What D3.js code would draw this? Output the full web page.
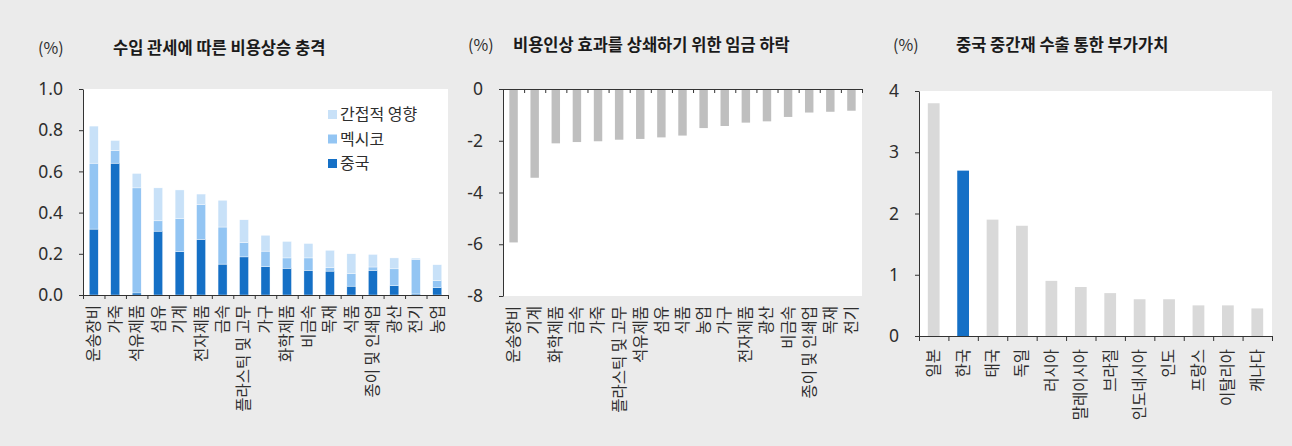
<!DOCTYPE html>
<html>
<head>
<meta charset="utf-8">
<script src="https://cdn.jsdelivr.net/npm/d3@7/dist/d3.min.js"></script>
<style>
  html, body { margin: 0; padding: 0; background: #ebebeb; }
  svg { display: block; }
  text { font-family: "Noto Sans", "Noto Sans CJK KR", sans-serif; }
  .kr { font-family: "Noto Sans CJK KR", "Noto Sans", sans-serif; }
</style>
</head>
<body>
<svg id="chart" width="1292" height="446"></svg>
<script>
// ---- Panel 1: cost increase from import tariffs (stacked) ----
const industries1 = ["운송장비", "가죽", "석유제품", "섬유", "기계", "전자제품", "금속", "플라스틱 및 고무",
  "가구", "화학제품", "비금속", "목재", "식품", "종이 및 인쇄업", "광산", "전기", "농업"];
const chinaShare  = [0.32, 0.64, 0.01, 0.31, 0.21, 0.27, 0.15, 0.185, 0.137, 0.13, 0.12, 0.116, 0.043, 0.12, 0.045, 0.005, 0.035];
const mexicoShare = [0.32, 0.06, 0.51, 0.05, 0.16, 0.17, 0.18, 0.07, 0.076, 0.05, 0.06, 0.016, 0.06, 0.016, 0.082, 0.166, 0.036];
const indirectShare = [0.18, 0.05, 0.07, 0.16, 0.14, 0.05, 0.13, 0.11, 0.077, 0.08, 0.07, 0.085, 0.097, 0.061, 0.053, 0.008, 0.076];
const seriesNames1 = ["중국", "멕시코", "간접적 영향"];
const yTicks1 = [0, 0.2, 0.4, 0.6, 0.8, 1.0];

// ---- Panel 2: wage decline needed to offset the cost increase ----
const industries2 = ["운송장비", "기계", "화학제품", "금속", "가죽", "플라스틱 및 고무", "석유제품", "섬유",
  "식품", "농업", "가구", "전자제품", "광산", "비금속", "종이 및 인쇄업", "목재", "전기"];
const wageDecline = [-5.93, -3.43, -2.10, -2.05, -2.02, -1.96, -1.93, -1.87, -1.80, -1.51, -1.43, -1.30, -1.25, -1.08, -0.91, -0.88, -0.84];
const yTicks2 = [0, -2, -4, -6, -8];

// ---- Panel 3: value added via intermediate exports to China ----
const countries = ["일본", "한국", "태국", "독일", "러시아", "말레이시아", "브라질", "인도네시아", "인도", "프랑스", "이탈리아", "캐나다"];
const valueAdded = [3.8, 2.7, 1.9, 1.8, 0.9, 0.8, 0.7, 0.6, 0.6, 0.5, 0.5, 0.45];
const yTicks3 = [0, 1, 2, 3, 4];

const colors1 = { "중국": "#1570c6", "멕시코": "#93c5f3", "간접적 영향": "#c8e1f8" };
const gray2 = "#bfbfbf";
const gray3 = "#d9d9d9";
const highlight3 = "#1570c6";

const svg = d3.select("#chart");
const AX = "#333";
const TXT = "#2e2e2e";
// integer labels with a plain hyphen for negatives
const intFmt = d => String(Math.round(d));

function styleAxis(g) {
  g.selectAll(".domain").attr("stroke", AX).attr("stroke-width", 1);
  g.selectAll(".tick line").attr("stroke", AX);
  g.selectAll(".tick text").attr("fill", TXT).style("font-size", "17.5px");
}

function headings(unitX, titleX, y, title) {
  svg.append("text").attr("class", "kr").attr("x", unitX).attr("y", y)
    .attr("fill", TXT).style("font-size", "16px").text("(%)");
  svg.append("text").attr("class", "kr").attr("x", titleX).attr("y", y)
    .attr("fill", "#1a1a1a").style("font-size", "16.5px").style("font-weight", "bold").text(title);
}

function categoryLabels(names, xBand, y0) {
  svg.append("g").selectAll("text").data(names).join("text")
    .attr("class", "kr")
    .attr("transform", d => `translate(${xBand(d) + xBand.bandwidth() / 2},${y0}) rotate(-90)`)
    .attr("text-anchor", "end")
    .attr("dy", "0.35em")
    .attr("fill", TXT)
    .style("font-size", "15.5px")
    .text(d => d);
}

// ================= Panel 1 =================
{
  const L = 83, R = 448, T = 89, B = 295;
  svg.append("rect").attr("x", L).attr("y", T).attr("width", R - L).attr("height", B - T).attr("fill", "#fff");
  const x = d3.scaleBand().domain(industries1).range([L, R]).paddingInner(0.58).paddingOuter(0.29);
  const y = d3.scaleLinear().domain([0, 1]).range([B, T]);

  const rows = industries1.map((c, i) => ({ cat: c, "중국": chinaShare[i], "멕시코": mexicoShare[i], "간접적 영향": indirectShare[i] }));
  const stacked = d3.stack().keys(seriesNames1)(rows);
  svg.append("g").selectAll("g").data(stacked).join("g")
    .attr("fill", s => colors1[s.key])
    .selectAll("rect").data(s => s).join("rect")
    .attr("x", d => x(d.data.cat))
    .attr("width", x.bandwidth())
    .attr("y", d => y(d[1]))
    .attr("height", d => Math.max(0, y(d[0]) - y(d[1])))
    .attr("stroke", "#fff").attr("stroke-width", 0.4);

  const gy = svg.append("g").attr("transform", `translate(${L},0)`)
    .call(d3.axisLeft(y).tickValues(yTicks1).tickFormat(d3.format(".1f")).tickSizeInner(4).tickSizeOuter(0).tickPadding(16));
  styleAxis(gy);
  const idx = d3.scaleLinear().domain([0, industries1.length]).range([L, R]);
  const gx = svg.append("g").attr("transform", `translate(0,${B})`)
    .call(d3.axisBottom(idx).tickValues(d3.range(industries1.length + 1)).tickFormat("").tickSizeInner(4).tickSizeOuter(0));
  styleAxis(gx);

  categoryLabels(industries1, x, B + 10);
  headings(38, 113, 54, "수입 관세에 따른 비용상승 충격");

  // legend (top entry is the top stack segment)
  const legendOrder = ["간접적 영향", "멕시코", "중국"];
  const lg = svg.append("g").attr("transform", "translate(328,110)");
  legendOrder.forEach((k, i) => {
    const row = lg.append("g").attr("transform", `translate(0,${i * 24.5})`);
    row.append("rect").attr("width", 9).attr("height", 9).attr("fill", colors1[k]);
    row.append("text").attr("class", "kr").attr("x", 12).attr("y", 4.5).attr("dy", "0.35em")
      .attr("fill", TXT).style("font-size", "16px").text(k);
  });
}

// ================= Panel 2 =================
{
  const L = 503, R = 862, T = 89, B = 296;
  svg.append("rect").attr("x", L).attr("y", T).attr("width", R - L).attr("height", B - T).attr("fill", "#fff");
  const x = d3.scaleBand().domain(industries2).range([L, R]).paddingInner(0.6).paddingOuter(0.3);
  const y = d3.scaleLinear().domain([-8, 0]).range([B, T]);

  svg.append("g").selectAll("rect").data(wageDecline).join("rect")
    .attr("x", (d, i) => x(industries2[i]))
    .attr("width", x.bandwidth())
    .attr("y", y(0))
    .attr("height", d => y(d) - y(0))
    .attr("fill", gray2);

  const gy = svg.append("g").attr("transform", `translate(${L},0)`)
    .call(d3.axisLeft(y).tickValues(yTicks2).tickFormat(intFmt).tickSizeInner(4).tickSizeOuter(0).tickPadding(16));
  styleAxis(gy);
  const idx = d3.scaleLinear().domain([0, industries2.length]).range([L, R]);
  const gx = svg.append("g").attr("transform", `translate(0,${y(0)})`)
    .call(d3.axisBottom(idx).tickValues(d3.range(industries2.length + 1)).tickFormat("").tickSizeInner(4).tickSizeOuter(0));
  styleAxis(gx);

  categoryLabels(industries2, x, B + 10);
  headings(468, 513, 51, "비용인상 효과를 상쇄하기 위한 임금 하락");
}

// ================= Panel 3 =================
{
  const L = 919, R = 1272, T = 91, B = 336;
  svg.append("rect").attr("x", L).attr("y", T).attr("width", R - L).attr("height", B - T).attr("fill", "#fff");
  const x = d3.scaleBand().domain(countries).range([L, R]).paddingInner(0.6).paddingOuter(0.3);
  const y = d3.scaleLinear().domain([0, 4]).range([B, T]);

  svg.append("g").selectAll("rect").data(valueAdded).join("rect")
    .attr("x", (d, i) => x(countries[i]))
    .attr("width", x.bandwidth())
    .attr("y", d => y(d))
    .attr("height", d => y(0) - y(d))
    .attr("fill", (d, i) => countries[i] === "한국" ? highlight3 : gray3);

  const gy = svg.append("g").attr("transform", `translate(${L},0)`)
    .call(d3.axisLeft(y).tickValues(yTicks3).tickFormat(intFmt).tickSizeInner(4).tickSizeOuter(0).tickPadding(16));
  styleAxis(gy);
  const idx = d3.scaleLinear().domain([0, countries.length]).range([L, R]);
  const gx = svg.append("g").attr("transform", `translate(0,${B})`)
    .call(d3.axisBottom(idx).tickValues(d3.range(countries.length + 1)).tickFormat("").tickSizeInner(5).tickSizeOuter(0));
  styleAxis(gx);

  categoryLabels(countries, x, B + 13);
  headings(893, 956, 51, "중국 중간재 수출 통한 부가가치");
}
</script>
</body>
</html>
